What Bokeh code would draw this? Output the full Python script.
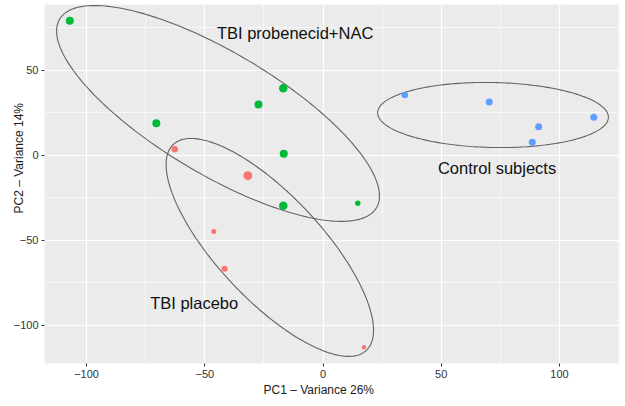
import numpy as np
from bokeh.plotting import figure
from bokeh.models import Range1d, FixedTicker, Title, ColumnDataSource
from bokeh.core.properties import value
from bokeh.embed import file_html
from bokeh.resources import INLINE

# ---- data ----
groups = ["TBI probenecid+NAC", "TBI placebo", "Control subjects"]
colors = ["#00BA38", "#F8766D", "#619CFF"]

nac_pc1 = [-107.1, -70.5, -27.3, -16.8, -16.6, -16.8, 14.7]
nac_pc2 = [79.2, 19.0, 30.0, 39.6, 1.0, -29.6, -28.1]
nac_size = [8, 8, 8, 8.5, 8, 8.5, 5.5]

placebo_pc1 = [-62.7, -31.8, -46.2, -41.6, 17.3]
placebo_pc2 = [3.7, -11.9, -44.7, -66.6, -112.9]
placebo_size = [6.5, 9, 5, 6, 4.5]

control_pc1 = [34.6, 70.3, 91.2, 88.5, 114.5]
control_pc2 = [35.5, 31.4, 16.9, 7.8, 22.4]
control_size = [6.5, 7, 7, 7, 7]

# ellipse per group: centre and two conjugate half-axis vectors (data units)
ellipse_cx = [-44.4, -22.5, 71.9]
ellipse_cy = [24.7, -54.1, 23.8]
ellipse_ux = [67.0, 40.8, 48.8]
ellipse_uy = [-55.5, -60.6, -1.4]
ellipse_vx = [-13.2, -16.1, -0.3]
ellipse_vy = [-30.8, -20.9, -19.1]

# group labels
label_text = ["TBI probenecid+NAC", "Control subjects", "TBI placebo"]
label_x = [-11.8, 73.6, -54.5]
label_y = [71.8, -7.6, -87.0]

x_ticks = [-100, -50, 0, 50, 100]
x_minor = [-75, -25, 25, 75, 125]
y_ticks = [-100, -50, 0, 50]
y_minor = [-75, -25, 25, 75]

x_title = "PC1 \u2013 Variance 26%"
y_title = "PC2 \u2013 Variance 14%"

# ---- figure ----
FONT = "Liberation Sans"
p = figure(width=625, height=406,
           x_range=Range1d(-117.8, 125.4), y_range=Range1d(-122.4, 88.8),
           output_backend="svg", toolbar_location=None,
           min_border_left=44, min_border_right=6, min_border_top=4, min_border_bottom=43,
           background_fill_color="#EBEBEB", border_fill_color="white",
           outline_line_color=None)

p.xaxis.ticker = FixedTicker(ticks=x_ticks, minor_ticks=x_minor)
p.yaxis.ticker = FixedTicker(ticks=y_ticks, minor_ticks=y_minor)
for ax in (p.xaxis, p.yaxis):
    ax.axis_line_color = None
    ax.major_tick_line_color = "#333333"
    ax.major_tick_in = 0
    ax.major_tick_out = 3
    ax.minor_tick_line_color = None
    ax.major_label_text_font = FONT
    ax.major_label_text_font_size = "11px"
    ax.major_label_text_color = "#333333"
    ax.major_label_standoff = 2
p.grid.grid_line_color = "white"
p.grid.grid_line_width = 1.2
p.grid.minor_grid_line_color = "white"
p.grid.minor_grid_line_width = 0.6

# ellipses
t = np.linspace(0, 2 * np.pi, 241)
for i in range(3):
    ex = ellipse_cx[i] + ellipse_ux[i] * np.cos(t) + ellipse_vx[i] * np.sin(t)
    ey = ellipse_cy[i] + ellipse_uy[i] * np.cos(t) + ellipse_vy[i] * np.sin(t)
    p.line(ex, ey, line_color="#626262", line_width=1.1)

# points
for xs, ys, ss, c in [(nac_pc1, nac_pc2, nac_size, colors[0]),
                      (placebo_pc1, placebo_pc2, placebo_size, colors[1]),
                      (control_pc1, control_pc2, control_size, colors[2])]:
    src = ColumnDataSource(dict(x=xs, y=ys, s=ss))
    p.scatter("x", "y", size="s", source=src, fill_color=c, line_color=None)

# group labels
p.text(x=label_x, y=label_y, text=label_text, text_align="center",
       text_baseline="middle", text_font=value(FONT), text_font_size="16.5px",
       text_color="#111111")

# axis titles
p.add_layout(Title(text=x_title, align="left", offset=219, standoff=0,
                   text_font=FONT, text_font_size="12px", text_font_style="normal",
                   text_color="#1a1a1a"), "below")
p.add_layout(Title(text=y_title, align="left", offset=150, standoff=-30,
                   text_font=FONT, text_font_size="12px", text_font_style="normal",
                   text_color="#1a1a1a"), "left")

open("out.html", "w").write(file_html(p, INLINE))
